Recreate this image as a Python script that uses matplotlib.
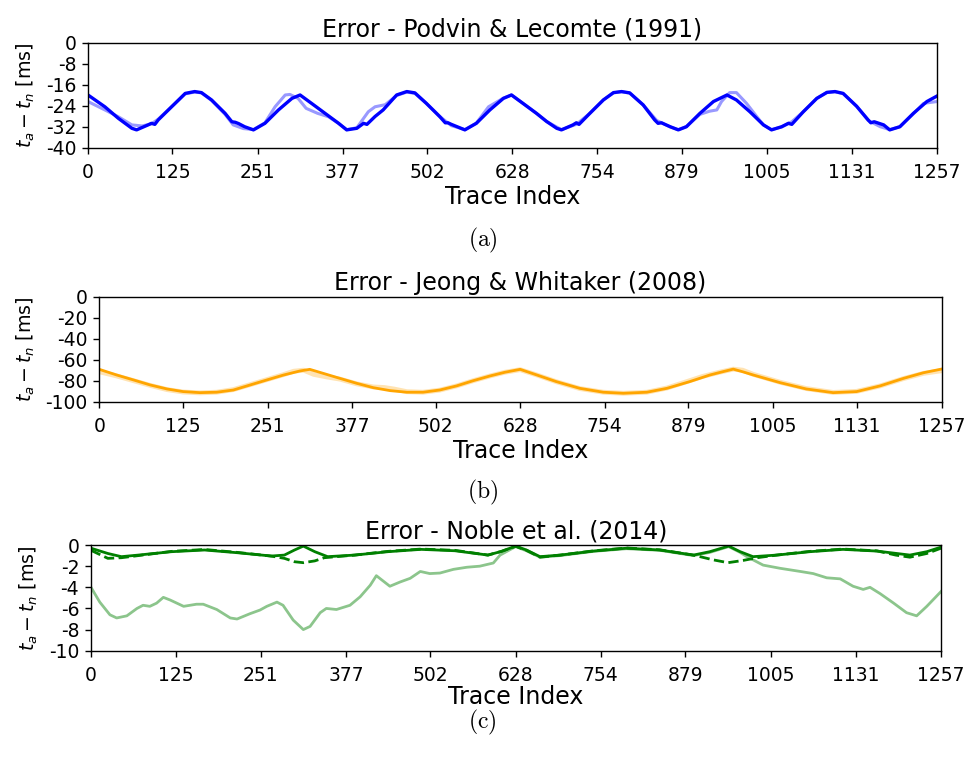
import matplotlib
matplotlib.use('Agg')
import matplotlib.pyplot as plt

plt.rcParams['axes.unicode_minus'] = False

# x-Achse (Trace Index)
x_ticks = [0, 125, 251, 377, 502, 628, 754, 879, 1005, 1131, 1257]
x_labels = ['0', '125', '251', '377', '502', '628', '754', '879', '1005', '1131', '1257']

# (a) Podvin & Lecomte
a_dark_x = [0, 25, 45, 65, 72, 89, 94, 99, 104, 129, 144, 158, 168, 183, 203, 213, 218, 223, 232, 245,
            262, 282, 302, 314, 331, 351, 371, 383, 398, 408, 413, 425, 437, 457, 472, 484, 501, 521, 529,
            533, 538, 558, 575, 595, 615, 627, 644, 664, 679, 694, 701, 718, 723, 727, 743, 763, 778, 790,
            802, 822, 839, 844, 849, 862, 874, 886, 906, 926, 946, 960, 980, 1000, 1012, 1027, 1037, 1042,
            1059, 1079, 1094, 1106, 1118, 1138, 1155, 1159, 1164, 1178, 1187, 1202, 1222, 1242, 1257]
a_dark_y = [-19.8, -24.3, -28.7, -32.5, -33.1, -31.2, -30.6, -31.0, -29.3, -23.0, -19.2, -18.5, -18.9, -21.7,
            -26.8, -30.0, -30.2, -30.7, -31.9, -33.1, -30.6, -25.5, -21.1, -19.8, -23.0, -26.8, -30.6, -33.1,
            -32.5, -30.6, -31.0, -28.0, -25.5, -19.8, -18.5, -19.0, -23.0, -28.1, -30.4, -30.4, -31.0, -33.1,
            -30.6, -25.5, -21.1, -19.8, -23.0, -26.8, -29.9, -32.5, -33.1, -31.2, -30.4, -31.0, -26.8, -21.7,
            -18.9, -18.5, -19.0, -23.6, -29.3, -30.6, -30.4, -31.9, -33.1, -31.9, -26.8, -22.3, -19.8, -21.7,
            -26.2, -31.2, -33.1, -31.9, -30.6, -31.0, -26.2, -21.1, -18.8, -18.5, -19.2, -24.1, -29.3, -30.4,
            -30.0, -31.2, -33.1, -31.9, -26.8, -22.3, -20.2]
a_light_x = [0, 25, 45, 65, 80, 94, 104, 129, 144, 158, 168, 183, 203, 215, 230, 245, 262, 277, 292, 299,
             311, 323, 340, 356, 371, 383, 398, 415, 425, 440, 457, 472, 484, 501, 521, 538, 558, 575, 593,
             615, 627, 644, 664, 679, 701, 723, 743, 763, 778, 790, 802, 822, 842, 862, 874, 886, 906, 920,
             931, 938, 950, 960, 975, 990, 1000, 1012, 1027, 1042, 1059, 1079, 1094, 1106, 1118, 1138, 1155,
             1173, 1187, 1202, 1222, 1237, 1257]
a_light_y = [-22.3, -25.5, -28.1, -31.2, -31.6, -30.8, -29.0, -23.0, -19.4, -18.7, -19.0, -21.9, -27.2, -31.2,
             -32.6, -33.0, -30.4, -24.3, -19.8, -19.6, -21.1, -24.9, -26.8, -28.1, -30.6, -33.0, -32.3, -26.2,
             -24.3, -23.5, -20.0, -18.7, -19.2, -23.0, -28.0, -31.5, -33.0, -30.5, -24.3, -21.0, -19.8, -23.0,
             -26.8, -29.9, -33.0, -31.0, -26.8, -21.7, -19.0, -18.6, -19.1, -23.6, -29.5, -32.0, -33.0, -31.8,
             -27.2, -26.0, -25.5, -22.3, -18.9, -18.9, -23.0, -28.0, -31.2, -33.0, -32.0, -30.0, -26.2, -21.1,
             -18.9, -18.6, -19.3, -24.1, -29.5, -31.9, -33.0, -31.9, -27.0, -23.0, -22.3]

# (b) Jeong & Whitaker
b_dark_x = [0, 26, 51, 76, 101, 125, 150, 175, 200, 225, 250, 275, 299, 314, 334, 359, 384, 409, 434, 459,
            483, 508, 533, 558, 583, 605, 628, 653, 682, 717, 752, 782, 817, 847, 881, 911, 930, 946, 960,
            976, 1016, 1055, 1095, 1130, 1165, 1200, 1230, 1257]
b_dark_y = [-69.2, -74.6, -79.3, -84.1, -87.9, -90.4, -91.4, -91.0, -88.9, -84.1, -79.3, -74.6, -70.8, -69.2,
            -73.0, -77.8, -82.5, -86.7, -89.5, -91.0, -91.0, -88.9, -85.0, -80.0, -75.5, -72.0, -69.2, -74.6,
            -80.9, -87.3, -91.0, -92.0, -91.0, -87.3, -80.9, -74.6, -71.5, -69.0, -71.5, -74.6, -81.9, -87.9,
            -91.4, -90.4, -85.0, -77.8, -72.4, -68.9]
b_light_x = [0, 26, 51, 76, 101, 125, 150, 175, 200, 225, 250, 275, 290, 305, 320, 340, 359, 384, 409, 425,
             440, 459, 483, 508, 533, 558, 583, 605, 628, 653, 682, 717, 752, 782, 817, 847, 881, 900, 925,
             946, 960, 976, 1016, 1055, 1095, 1130, 1165, 1200, 1230, 1257]
b_light_y = [-71.5, -75.5, -80.0, -84.5, -88.5, -90.8, -91.6, -91.0, -88.5, -83.8, -79.0, -74.2, -71.0, -70.0,
             -74.0, -76.5, -78.5, -83.0, -86.0, -86.5, -88.0, -90.5, -91.0, -89.0, -85.0, -80.0, -75.5, -72.0,
             -69.5, -74.6, -81.0, -87.5, -91.0, -92.0, -91.0, -87.0, -80.0, -76.0, -72.0, -69.0, -70.0, -74.0,
             -81.5, -87.5, -91.2, -90.2, -85.0, -78.0, -73.0, -70.5]

# (c) Noble et al.
c_solid_x = [0, 25, 45, 70, 119, 168, 217, 267, 286, 301, 314, 331, 350, 390, 439, 488, 538, 587, 607, 628,
             644, 664, 694, 743, 792, 841, 891, 915, 943, 960, 979, 1014, 1063, 1112, 1162, 1211, 1236, 1257]
c_solid_y = [-0.3, -0.8, -1.1, -0.95, -0.63, -0.47, -0.73, -1.04, -0.95, -0.47, -0.1, -0.63, -1.1, -0.95,
             -0.63, -0.41, -0.54, -0.95, -0.6, -0.1, -0.47, -1.1, -0.95, -0.57, -0.3, -0.47, -0.95, -0.63,
             -0.1, -0.63, -1.1, -0.95, -0.63, -0.41, -0.57, -0.95, -0.63, -0.2]
c_dash_x = [0, 25, 45, 70, 119, 168, 217, 267, 286, 301, 314, 331, 345, 390, 439, 488, 538, 587, 607, 628,
            644, 664, 694, 743, 792, 841, 891, 920, 942, 965, 985, 1014, 1063, 1112, 1162, 1190, 1211, 1236, 1257]
c_dash_y = [-0.5, -1.26, -1.2, -1.0, -0.6, -0.42, -0.7, -1.05, -1.26, -1.58, -1.67, -1.5, -1.2, -0.95, -0.6,
            -0.38, -0.5, -0.95, -0.6, -0.12, -0.5, -1.15, -0.95, -0.55, -0.28, -0.45, -0.95, -1.4, -1.67,
            -1.45, -1.2, -0.95, -0.6, -0.38, -0.55, -0.95, -1.15, -0.8, -0.3]
c_light_x = [0, 13, 28, 38, 53, 68, 77, 87, 97, 107, 117, 137, 156, 166, 186, 206, 216, 235, 250, 260, 275,
             284, 299, 314, 324, 339, 348, 363, 383, 398, 413, 422, 432, 442, 457, 472, 487, 501, 516, 536,
             556, 575, 595, 605, 628, 644, 664, 694, 743, 792, 841, 891, 915, 943, 960, 970, 994, 1019, 1049,
             1068, 1088, 1108, 1127, 1142, 1152, 1167, 1187, 1206, 1221, 1236, 1257]
c_light_y = [-4.0, -5.4, -6.6, -6.9, -6.7, -6.0, -5.7, -5.8, -5.5, -4.95, -5.2, -5.8, -5.6, -5.6, -6.1, -6.9,
             -7.0, -6.5, -6.15, -5.8, -5.4, -5.7, -7.1, -8.0, -7.7, -6.4, -6.0, -6.1, -5.7, -4.9, -3.8, -2.9,
             -3.4, -3.9, -3.5, -3.15, -2.5, -2.7, -2.65, -2.3, -2.1, -2.0, -1.7, -0.95, -0.15, -0.55, -1.15,
             -1.0, -0.6, -0.35, -0.5, -1.0, -0.7, -0.15, -0.7, -1.1, -1.9, -2.2, -2.5, -2.7, -3.1, -3.2, -3.9,
             -4.2, -4.0, -4.6, -5.5, -6.4, -6.7, -5.8, -4.4]

titles = ['Error - Podvin & Lecomte (1991)', 'Error - Jeong & Whitaker (2008)', 'Error - Noble et al. (2014)']
captions = ['(a)', '(b)', '(c)']
caption_y = [0.683, 0.350, 0.045]

fig = plt.figure(figsize=(9.71, 7.57), dpi=100)

ax_a = fig.add_axes([0.0906, 0.8045, 0.8744, 0.1387])
ax_b = fig.add_axes([0.1023, 0.4694, 0.8675, 0.1386])
ax_c = fig.add_axes([0.0937, 0.1404, 0.8754, 0.1396])

ax_a.plot(a_light_x, a_light_y, color='blue', alpha=0.4, lw=2.2)
ax_a.plot(a_dark_x, a_dark_y, color='blue', lw=2.4)
ax_a.set_ylim(-40, 0)
ax_a.set_yticks([0, -8, -16, -24, -32, -40])

ax_b.plot(b_light_x, b_light_y, color='orange', alpha=0.3, lw=3.5)
ax_b.plot(b_dark_x, b_dark_y, color='orange', lw=2.0)
ax_b.set_ylim(-100, 0)
ax_b.set_yticks([0, -20, -40, -60, -80, -100])

ax_c.plot(c_light_x, c_light_y, color='green', alpha=0.45, lw=2.0)
ax_c.plot(c_dash_x, c_dash_y, color='green', lw=2.0, ls='--')
ax_c.plot(c_solid_x, c_solid_y, color='green', lw=2.0)
ax_c.set_ylim(-10, 0)
ax_c.set_yticks([0, -2, -4, -6, -8, -10])

for ax, title in zip([ax_a, ax_b, ax_c], titles):
    ax.set_xlim(0, 1257)
    ax.set_xticks(x_ticks)
    ax.set_xticklabels(x_labels)
    ax.tick_params(labelsize=13.5, length=4.5, width=1.0, pad=4)
    ax.tick_params(axis='x', pad=6.5)
    for s in ax.spines.values():
        s.set_linewidth(1.0)
    ax.set_title(title, fontsize=17, pad=5)
    ax.set_xlabel('Trace Index', fontsize=17, labelpad=2)
    ax.set_ylabel(r'$t_a - t_n$ [ms]', fontsize=13.7, labelpad=6)

ax_c.xaxis.labelpad = 0

for cap, cy in zip(captions, caption_y):
    fig.text(0.497, cy, r'$\mathrm{' + cap + '}$', ha='center', va='center', fontsize=17, math_fontfamily='cm')

fig.savefig('out.png', dpi=100)
